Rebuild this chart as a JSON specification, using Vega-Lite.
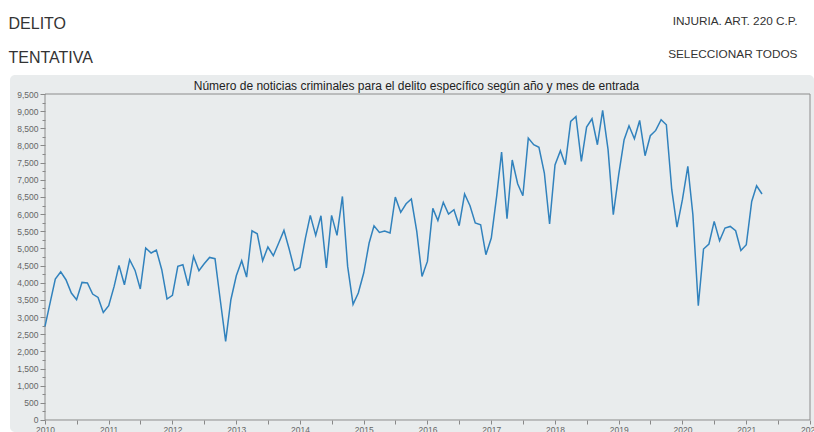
{
  "$schema": "https://vega.github.io/schema/vega-lite/v6.json",
  "width": 804,
  "height": 357,
  "autosize": {"type": "none"},
  "padding": {"left": 10, "top": 75, "right": 0, "bottom": 0},
  "background": "white",
  "config": {
    "font": "Liberation Sans",
    "view": {"fill": "#e9eced", "stroke": null, "cornerRadius": 5},
    "axis": {"grid": false}
  },
  "resolve": {"axis": {"x": "independent", "y": "independent"}},
  "layer": [
    {
      "data": {"values": [{"marco": "plot"}]},
      "mark": {"type": "rect", "fill": "transparent", "stroke": "#8c8c8c", "strokeWidth": 1},
      "encoding": {
        "x": {"datum": {"year": 2010, "month": 1, "date": 1, "utc": true}, "type": "temporal",
          "scale": {"type": "utc", "domain": [{"year": 2009, "month": 6, "date": 14, "hours": 11, "utc": true}, {"year": 2022, "month": 1, "date": 23, "hours": 22, "utc": true}]},
          "axis": {"orient": "top", "offset": -19, "labels": false, "ticks": false, "domain": false,
            "title": "Número de noticias criminales para el delito específico según año y mes de entrada",
            "titleFontSize": 12, "titleFontWeight": "normal", "titleColor": "#222", "titleX": 406, "titleY": -5,
            "titleAlign": "center", "titleBaseline": "alphabetic"}},
        "x2": {"datum": {"year": 2022, "month": 1, "date": 1, "utc": true}},
        "y": {"datum": 0, "type": "quantitative",
          "scale": {"domain": [-350, 10054], "nice": false, "zero": false},
          "axis": {"orient": "right", "labels": false, "ticks": false, "domain": false,
            "title": ["INJURIA. ART. 220 C.P.", "SELECCIONAR TODOS"],
            "titleAngle": 0, "titleAlign": "right", "titleBaseline": "alphabetic",
            "titleX": -17, "titleY": -51, "titleLineHeight": 33,
            "titleFontSize": 11.8, "titleFontWeight": "normal", "titleColor": "#333"}},
        "y2": {"datum": 9500}
      }
    },
    {
      "data": {"values": [
        {"fecha": "2010-01-01", "n": 2730}, {"fecha": "2010-02-01", "n": 3456}, {"fecha": "2010-03-01", "n": 4108}, {"fecha": "2010-04-01", "n": 4321},
        {"fecha": "2010-05-01", "n": 4088}, {"fecha": "2010-06-01", "n": 3700}, {"fecha": "2010-07-01", "n": 3505}, {"fecha": "2010-08-01", "n": 4010},
        {"fecha": "2010-09-01", "n": 3992}, {"fecha": "2010-10-01", "n": 3671}, {"fecha": "2010-11-01", "n": 3572}, {"fecha": "2010-12-01", "n": 3135},
        {"fecha": "2011-01-01", "n": 3330}, {"fecha": "2011-02-01", "n": 3893}, {"fecha": "2011-03-01", "n": 4505}, {"fecha": "2011-04-01", "n": 3942},
        {"fecha": "2011-05-01", "n": 4671}, {"fecha": "2011-06-01", "n": 4359}, {"fecha": "2011-07-01", "n": 3817}, {"fecha": "2011-08-01", "n": 5012},
        {"fecha": "2011-09-01", "n": 4866}, {"fecha": "2011-10-01", "n": 4953}, {"fecha": "2011-11-01", "n": 4379}, {"fecha": "2011-12-01", "n": 3526},
        {"fecha": "2012-01-01", "n": 3631}, {"fecha": "2012-02-01", "n": 4476}, {"fecha": "2012-03-01", "n": 4525}, {"fecha": "2012-04-01", "n": 3913},
        {"fecha": "2012-05-01", "n": 4767}, {"fecha": "2012-06-01", "n": 4350}, {"fecha": "2012-07-01", "n": 4554}, {"fecha": "2012-08-01", "n": 4738},
        {"fecha": "2012-09-01", "n": 4700}, {"fecha": "2012-10-01", "n": 3505}, {"fecha": "2012-11-01", "n": 2290}, {"fecha": "2012-12-01", "n": 3505},
        {"fecha": "2013-01-01", "n": 4204}, {"fecha": "2013-02-01", "n": 4641}, {"fecha": "2013-03-01", "n": 4166}, {"fecha": "2013-04-01", "n": 5515},
        {"fecha": "2013-05-01", "n": 5428}, {"fecha": "2013-06-01", "n": 4641}, {"fecha": "2013-07-01", "n": 5040}, {"fecha": "2013-08-01", "n": 4787},
        {"fecha": "2013-09-01", "n": 5157}, {"fecha": "2013-10-01", "n": 5525}, {"fecha": "2013-11-01", "n": 4962}, {"fecha": "2013-12-01", "n": 4359},
        {"fecha": "2014-01-01", "n": 4447}, {"fecha": "2014-02-01", "n": 5303}, {"fecha": "2014-03-01", "n": 5962}, {"fecha": "2014-04-01", "n": 5379},
        {"fecha": "2014-05-01", "n": 5953}, {"fecha": "2014-06-01", "n": 4429}, {"fecha": "2014-07-01", "n": 5962}, {"fecha": "2014-08-01", "n": 5379},
        {"fecha": "2014-09-01", "n": 6515}, {"fecha": "2014-10-01", "n": 4476}, {"fecha": "2014-11-01", "n": 3368}, {"fecha": "2014-12-01", "n": 3700},
        {"fecha": "2015-01-01", "n": 4283}, {"fecha": "2015-02-01", "n": 5157}, {"fecha": "2015-03-01", "n": 5661}, {"fecha": "2015-04-01", "n": 5466},
        {"fecha": "2015-05-01", "n": 5507}, {"fecha": "2015-06-01", "n": 5449}, {"fecha": "2015-07-01", "n": 6498}, {"fecha": "2015-08-01", "n": 6051},
        {"fecha": "2015-09-01", "n": 6302}, {"fecha": "2015-10-01", "n": 6440}, {"fecha": "2015-11-01", "n": 5497}, {"fecha": "2015-12-01", "n": 4184},
        {"fecha": "2016-01-01", "n": 4621}, {"fecha": "2016-02-01", "n": 6166}, {"fecha": "2016-03-01", "n": 5816}, {"fecha": "2016-04-01", "n": 6341},
        {"fecha": "2016-05-01", "n": 6002}, {"fecha": "2016-06-01", "n": 6128}, {"fecha": "2016-07-01", "n": 5661}, {"fecha": "2016-08-01", "n": 6585},
        {"fecha": "2016-09-01", "n": 6244}, {"fecha": "2016-10-01", "n": 5740}, {"fecha": "2016-11-01", "n": 5690}, {"fecha": "2016-12-01", "n": 4816},
        {"fecha": "2017-01-01", "n": 5303}, {"fecha": "2017-02-01", "n": 6530}, {"fecha": "2017-03-01", "n": 7809}, {"fecha": "2017-04-01", "n": 5865},
        {"fecha": "2017-05-01", "n": 7576}, {"fecha": "2017-06-01", "n": 6885}, {"fecha": "2017-07-01", "n": 6535}, {"fecha": "2017-08-01", "n": 8216},
        {"fecha": "2017-09-01", "n": 8022}, {"fecha": "2017-10-01", "n": 7945}, {"fecha": "2017-11-01", "n": 7197}, {"fecha": "2017-12-01", "n": 5711},
        {"fecha": "2018-01-01", "n": 7431}, {"fecha": "2018-02-01", "n": 7848}, {"fecha": "2018-03-01", "n": 7440}, {"fecha": "2018-04-01", "n": 8700},
        {"fecha": "2018-05-01", "n": 8845}, {"fecha": "2018-06-01", "n": 7536}, {"fecha": "2018-07-01", "n": 8536}, {"fecha": "2018-08-01", "n": 8778},
        {"fecha": "2018-09-01", "n": 8022}, {"fecha": "2018-10-01", "n": 9021}, {"fecha": "2018-11-01", "n": 7877}, {"fecha": "2018-12-01", "n": 5982},
        {"fecha": "2019-01-01", "n": 7148}, {"fecha": "2019-02-01", "n": 8167}, {"fecha": "2019-03-01", "n": 8575}, {"fecha": "2019-04-01", "n": 8196},
        {"fecha": "2019-05-01", "n": 8730}, {"fecha": "2019-06-01", "n": 7702}, {"fecha": "2019-07-01", "n": 8285}, {"fecha": "2019-08-01", "n": 8439},
        {"fecha": "2019-09-01", "n": 8750}, {"fecha": "2019-10-01", "n": 8604}, {"fecha": "2019-11-01", "n": 6711}, {"fecha": "2019-12-01", "n": 5623},
        {"fecha": "2020-01-01", "n": 6419}, {"fecha": "2020-02-01", "n": 7390}, {"fecha": "2020-03-01", "n": 5982}, {"fecha": "2020-04-01", "n": 3330},
        {"fecha": "2020-05-01", "n": 4982}, {"fecha": "2020-06-01", "n": 5128}, {"fecha": "2020-07-01", "n": 5787}, {"fecha": "2020-08-01", "n": 5224},
        {"fecha": "2020-09-01", "n": 5594}, {"fecha": "2020-10-01", "n": 5641}, {"fecha": "2020-11-01", "n": 5516}, {"fecha": "2020-12-01", "n": 4942},
        {"fecha": "2021-01-01", "n": 5108}, {"fecha": "2021-02-01", "n": 6370}, {"fecha": "2021-03-01", "n": 6827}, {"fecha": "2021-04-01", "n": 6585}
      ]},
      "mark": {"type": "line", "color": "#3182bd", "strokeWidth": 1.5},
      "encoding": {
        "x": {"field": "fecha", "type": "temporal",
          "scale": {"type": "utc", "domain": [{"year": 2009, "month": 6, "date": 14, "hours": 11, "utc": true}, {"year": 2022, "month": 1, "date": 23, "hours": 22, "utc": true}]},
          "axis": {"orient": "bottom", "offset": -12, "domain": false, "title": null,
            "values": [
              {"year": 2010, "month": 1, "date": 1, "utc": true}, {"year": 2010, "month": 7, "date": 1, "utc": true},
              {"year": 2011, "month": 1, "date": 1, "utc": true}, {"year": 2011, "month": 7, "date": 1, "utc": true},
              {"year": 2012, "month": 1, "date": 1, "utc": true}, {"year": 2012, "month": 7, "date": 1, "utc": true},
              {"year": 2013, "month": 1, "date": 1, "utc": true}, {"year": 2013, "month": 7, "date": 1, "utc": true},
              {"year": 2014, "month": 1, "date": 1, "utc": true}, {"year": 2014, "month": 7, "date": 1, "utc": true},
              {"year": 2015, "month": 1, "date": 1, "utc": true}, {"year": 2015, "month": 7, "date": 1, "utc": true},
              {"year": 2016, "month": 1, "date": 1, "utc": true}, {"year": 2016, "month": 7, "date": 1, "utc": true},
              {"year": 2017, "month": 1, "date": 1, "utc": true}, {"year": 2017, "month": 7, "date": 1, "utc": true},
              {"year": 2018, "month": 1, "date": 1, "utc": true}, {"year": 2018, "month": 7, "date": 1, "utc": true},
              {"year": 2019, "month": 1, "date": 1, "utc": true}, {"year": 2019, "month": 7, "date": 1, "utc": true},
              {"year": 2020, "month": 1, "date": 1, "utc": true}, {"year": 2020, "month": 7, "date": 1, "utc": true},
              {"year": 2021, "month": 1, "date": 1, "utc": true}, {"year": 2021, "month": 7, "date": 1, "utc": true},
              {"year": 2022, "month": 1, "date": 1, "utc": true}
            ],
            "labelExpr": "utcmonth(datum.value) === 0 ? utcFormat(datum.value, '%Y') : ''",
            "tickSize": 4, "tickColor": "#888", "labelColor": "#666", "labelFontSize": 8.5, "labelPadding": 1, "labelFlush": false}},
        "y": {"field": "n", "type": "quantitative",
          "scale": {"domain": [-350, 10054], "nice": false, "zero": false},
          "axis": {"orient": "left", "offset": -35, "domain": false, "title": null,
            "values": [0, 250, 500, 750, 1000, 1250, 1500, 1750, 2000, 2250, 2500, 2750, 3000, 3250, 3500, 3750, 4000, 4250, 4500, 4750, 5000, 5250, 5500, 5750, 6000, 6250, 6500, 6750, 7000, 7250, 7500, 7750, 8000, 8250, 8500, 8750, 9000, 9250, 9500],
            "format": ",",
            "labelExpr": "datum.value % 500 === 0 ? format(datum.value, ',') : ''",
            "tickSize": {"condition": {"test": "datum.value % 500 === 0", "value": 5}, "value": 3},
            "tickColor": "#888", "labelColor": "#666", "labelFontSize": 8.5, "labelPadding": 2}}
      }
    },
    {
      "data": {"values": [{"marco": "cabecera"}]},
      "mark": {"type": "point", "opacity": 0},
      "encoding": {
        "y": {"datum": 0, "type": "quantitative",
          "scale": {"domain": [-350, 10054], "nice": false, "zero": false},
          "axis": {"orient": "left", "labels": false, "ticks": false, "domain": false,
            "title": ["DELITO", "TENTATIVA"],
            "titleAngle": 0, "titleAlign": "left", "titleBaseline": "alphabetic",
            "titleX": -2, "titleY": -47, "titleLineHeight": 34,
            "titleFontSize": 16, "titleFontWeight": "normal", "titleColor": "#333"}}
      }
    }
  ]
}
